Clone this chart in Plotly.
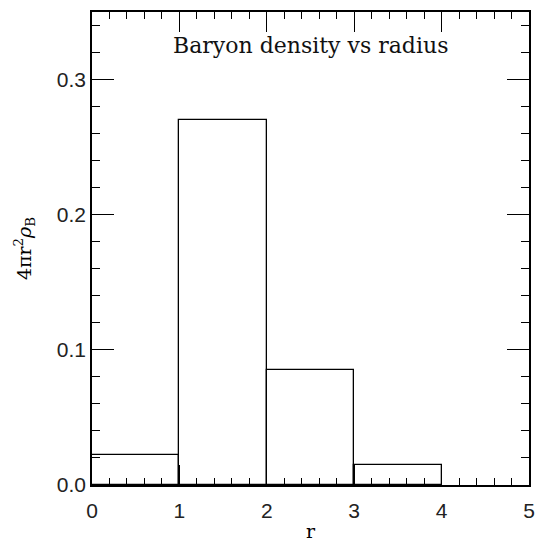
import plotly.graph_objects as go

# Radial bins (left edges, unit width) and the baryon density per bin
bin_left = [0, 1, 2, 3]
bin_width = 1.0
density = [0.022, 0.270, 0.085, 0.015]

x_ticks = [0, 1, 2, 3, 4, 5]
y_ticks = [0.0, 0.1, 0.2, 0.3]
y_tick_text = ["0.0", "0.1", "0.2", "0.3"]
x_range = [0, 5]
y_range = [0, 0.35]

SERIF = "DejaVu Serif"
SANS = "Liberation Sans"

fig = go.Figure()
fig.add_trace(go.Bar(
    x=[b + bin_width / 2 for b in bin_left],
    y=density,
    width=bin_width,
    marker=dict(color="rgba(0,0,0,0)", line=dict(color="black", width=1.3)),
    showlegend=False,
))

axis_common = dict(
    showline=True, linecolor="black", linewidth=1.6, mirror="allticks",
    ticks="inside", tickcolor="black", tickwidth=1.3,
    showgrid=False, zeroline=False, layer="above traces", automargin=False,
    tickfont=dict(family=SANS, size=21, color="#222"),
)

fig.update_xaxes(
    range=x_range, tickvals=x_ticks, ticklen=20, ticklabelstandoff=6,
    minor=dict(dtick=0.2, ticks="inside", ticklen=7, tickcolor="black", tickwidth=1.2),
    title=dict(text="r", font=dict(family=SERIF, size=19, color="black"), standoff=4),
    **axis_common,
)
fig.update_yaxes(
    range=y_range, tickvals=y_ticks, ticktext=y_tick_text, ticklen=22,
    minor=dict(dtick=0.02, ticks="inside", ticklen=8, tickcolor="black", tickwidth=1.2),
    title=dict(text="4πr<sup>2</sup><i>ρ</i><sub>B</sub>",
               font=dict(family=SERIF, size=19, color="black"), standoff=20),
    **axis_common,
)

fig.add_annotation(
    x=2.5, y=0.325, xref="x", yref="y",
    text="Baryon density vs radius", showarrow=False,
    font=dict(family=SERIF, size=22, color="#111"),
)

fig.update_layout(
    width=540, height=544,
    margin=dict(l=92, r=11, t=12, b=59),
    paper_bgcolor="white", plot_bgcolor="white",
    bargap=0,
)

fig.write_html("out.html")
